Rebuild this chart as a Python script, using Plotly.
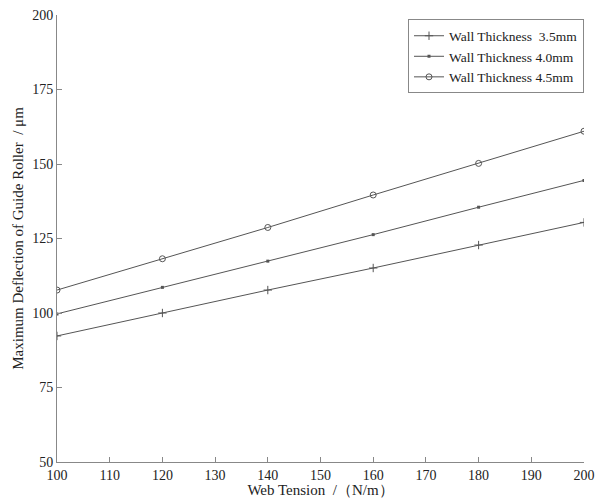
import plotly.graph_objects as go

tension = [100, 120, 140, 160, 180, 200]
wall_35 = [92.3, 100.0, 107.7, 115.1, 122.8, 130.4]
wall_40 = [99.7, 108.6, 117.4, 126.3, 135.5, 144.5]
wall_45 = [107.7, 118.2, 128.7, 139.6, 150.2, 161.0]

x_ticks = list(range(100, 201, 10))
y_ticks = [50, 75, 100, 125, 150, 175, 200]

line_color = "#555555"
font = "Liberation Serif, Times New Roman, serif"

fig = go.Figure()
fig.add_trace(go.Scatter(x=tension, y=wall_35, mode="lines+markers",
                         name="Wall Thickness  3.5mm",
                         line=dict(color=line_color, width=1),
                         marker=dict(symbol="cross-thin", size=6,
                                     line=dict(color=line_color, width=1))))
fig.add_trace(go.Scatter(x=tension, y=wall_40, mode="lines+markers",
                         name="Wall Thickness 4.0mm",
                         line=dict(color=line_color, width=1),
                         marker=dict(symbol="square", size=3, color=line_color)))
fig.add_trace(go.Scatter(x=tension, y=wall_45, mode="lines+markers",
                         name="Wall Thickness 4.5mm",
                         line=dict(color=line_color, width=1),
                         marker=dict(symbol="circle-open", size=6,
                                     line=dict(color=line_color, width=1))))

fig.update_layout(
    width=595, height=498,
    margin=dict(l=57, r=11, t=15, b=36, autoexpand=False),
    paper_bgcolor="white", plot_bgcolor="white",
    font=dict(family=font, size=14, color="#222222"),
    showlegend=True,
    legend=dict(x=1.0, y=0.99, xanchor="right", yanchor="top",
                bordercolor="#888888", borderwidth=1, bgcolor="white",
                font=dict(family=font, size=13.5, color="#222222"),
                tracegroupgap=0, itemwidth=30),
    xaxis=dict(range=[100, 200], tickvals=x_ticks, ticks="inside", ticklen=5,
               tickcolor="#888888", showline=True, linecolor="#888888",
               showgrid=False, zeroline=False, automargin=False,
               tickfont=dict(family=font, size=14),
               title=dict(text="Web Tension  /（N/m）", standoff=0,
                          font=dict(family=font, size=15))),
    yaxis=dict(range=[50, 200], tickvals=y_ticks, ticks="inside", ticklen=5,
               tickcolor="#888888", showline=True, linecolor="#888888",
               showgrid=False, zeroline=False, automargin=False,
               tickfont=dict(family=font, size=14),
               title=dict(text="Maximum Deflection of Guide Roller  / μm", standoff=4,
                          font=dict(family=font, size=15))),
)

fig.write_html("out.html",
               config={"displayModeBar": False},
               post_script="document.body.style.margin='0';document.body.style.overflow='hidden';")
